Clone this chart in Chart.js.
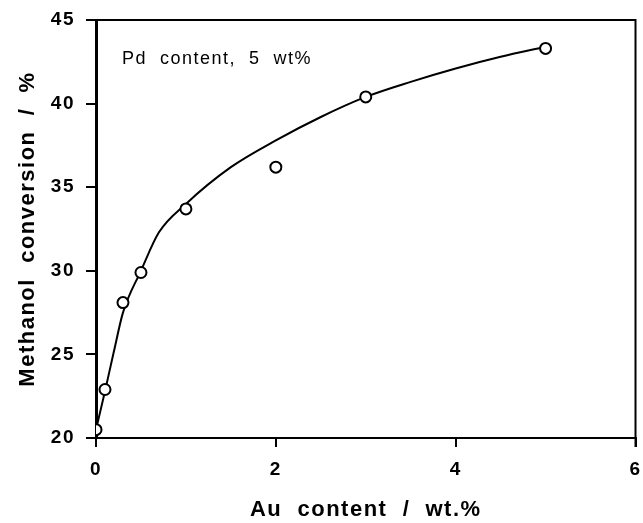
<!DOCTYPE html>
<html>
<head>
<meta charset="utf-8">
<script src="https://cdn.jsdelivr.net/npm/chart.js@4"></script>
<style>
  html, body { margin: 0; padding: 0; background: #fff; }
  #wrap { width: 643px; height: 523px; position: relative; }
</style>
</head>
<body>
<div id="wrap"><canvas id="methanolChart"></canvas></div>
<script>
// ================= DATA =================
var auContent = [0, 0.1, 0.3, 0.5, 1, 2, 3, 5];
var conversion = [20.5, 22.9, 28.1, 29.9, 33.7, 36.2, 40.4, 43.3];

// fitted curve
var fitX = [0, 0.1, 0.2, 0.3, 0.5, 0.7, 1, 1.5, 2, 2.5, 3, 3.5, 4, 4.5, 5];
var fitY = [20.5, 22.8, 25.2, 27.5, 30.0, 32.3, 34.0, 36.2, 37.8, 39.2, 40.4, 41.3, 42.1, 42.8, 43.4];

var xTicks = [0, 2, 4, 6];
var yTicks = [20, 25, 30, 35, 40, 45];

function toPoints(xs, ys) {
    return xs.map(function (x, i) { return { x: x, y: ys[i] }; });
}

var FONT = "'Liberation Sans', Arial, sans-serif";

// frame on top/right + annotation text
var framePlugin = {
    id: "frame",
    beforeDraw: function (chart) {
        chart.ctx.letterSpacing = "1.5px";
    },
    afterDraw: function (chart) {
        var ctx = chart.ctx, a = chart.chartArea;
        ctx.save();
        ctx.strokeStyle = "#000";
        ctx.lineWidth = 2;
        ctx.beginPath();
        ctx.moveTo(a.left - 10, a.top);
        ctx.lineTo(a.right, a.top);
        ctx.lineTo(a.right, a.bottom + 9);
        ctx.stroke();
        ctx.fillStyle = "#000";
        ctx.font = "18px " + FONT;
        ctx.letterSpacing = "1.5px";
        ctx.textAlign = "left";
        ctx.textBaseline = "alphabetic";
        ctx.fillText("Pd  content,  5  wt%", a.left + 26, a.top + 44);
        ctx.restore();
    }
};

new Chart(document.getElementById("methanolChart"), {
    type: "scatter",
    data: {
        datasets: [
            {
                label: "Measured",
                data: toPoints(auContent, conversion),
                pointStyle: "circle",
                pointRadius: 5.5,
                pointBorderWidth: 2,
                pointBorderColor: "#000",
                pointBackgroundColor: "#fff",
                showLine: false
            },
            {
                label: "Fit",
                data: toPoints(fitX, fitY),
                showLine: true,
                borderColor: "#000",
                borderWidth: 2,
                pointRadius: 0,
                cubicInterpolationMode: "monotone",
                fill: false
            }
        ]
    },
    options: {
        responsive: true,
        maintainAspectRatio: false,
        animation: false,
        layout: { padding: { left: 0, right: 7, top: 20, bottom: 0 } },
        plugins: {
            legend: { display: false },
            tooltip: { enabled: false }
        },
        scales: {
            x: {
                type: "linear",
                min: 0,
                max: 6,
                afterBuildTicks: function (s) { s.ticks = xTicks.map(function (v) { return { value: v }; }); },
                afterFit: function (s) { s.height = 85; s.paddingLeft = 0; s.paddingRight = 0; },
                border: { display: true, color: "#000", width: 2 },
                grid: { drawOnChartArea: false, color: "#000", lineWidth: 2, tickLength: 9 },
                ticks: { color: "#000", font: { family: FONT, size: 19, weight: "bold" }, padding: 11, maxRotation: 0 },
                title: {
                    display: true,
                    text: "Au  content  /  wt.%",
                    color: "#000",
                    font: { family: FONT, size: 22, weight: "bold" },
                    padding: { top: 0, bottom: 0 }
                }
            },
            y: {
                type: "linear",
                min: 20,
                max: 45,
                afterBuildTicks: function (s) { s.ticks = yTicks.map(function (v) { return { value: v }; }); },
                afterFit: function (s) { s.width = 96; s.paddingTop = 0; s.paddingBottom = 0; },
                border: { display: true, color: "#000", width: 3 },
                grid: { drawOnChartArea: false, color: "#000", lineWidth: 2, tickLength: 10 },
                ticks: { color: "#000", font: { family: FONT, size: 19, weight: "bold" }, padding: 11 },
                title: {
                    display: true,
                    text: "Methanol  conversion  /  %",
                    color: "#000",
                    font: { family: FONT, size: 22, weight: "bold" },
                    padding: { top: 15, bottom: 0 }
                }
            }
        }
    },
    plugins: [framePlugin]
});
</script>
</body>
</html>
